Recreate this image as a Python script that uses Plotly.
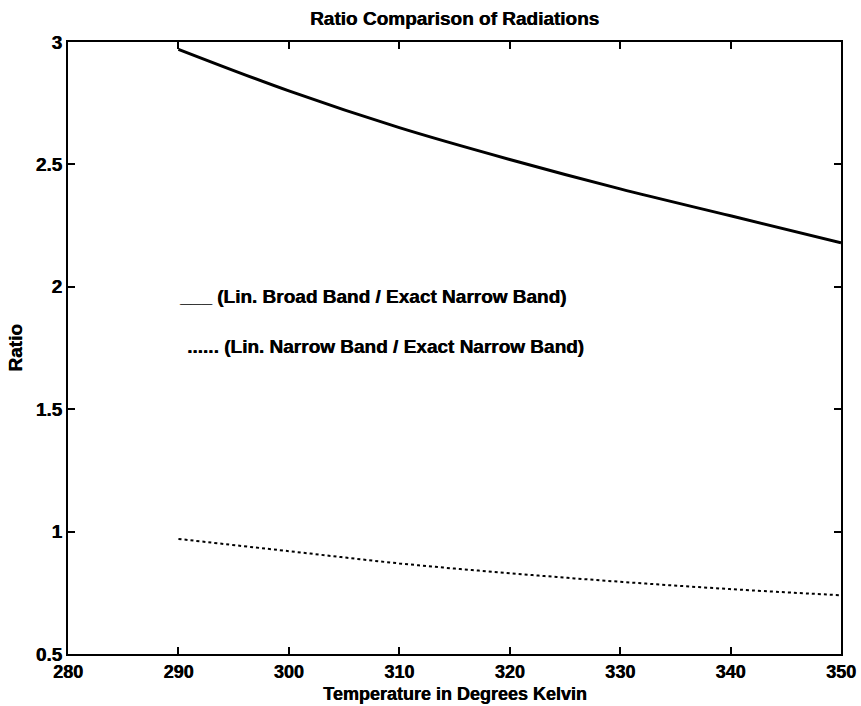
import plotly.graph_objects as go

temps = [290, 300, 310, 320, 330, 340, 350]
broad_ratio = [2.97, 2.80, 2.65, 2.52, 2.40, 2.29, 2.18]
narrow_ratio = [0.97, 0.92, 0.87, 0.83, 0.795, 0.765, 0.74]

x_ticks = [280, 290, 300, 310, 320, 330, 340, 350]
y_ticks = [0.5, 1, 1.5, 2, 2.5, 3]
y_tick_text = ["0.5", "1", "1.5", "2", "2.5", "3"]

legend_texts = ["___ (Lin. Broad Band / Exact Narrow Band)",
                "...... (Lin. Narrow Band / Exact Narrow Band)"]
legend_x = [289.9, 290.6]
legend_y = [1.96, 1.755]

FONT = "Liberation Sans"
SHADOW = "0.5px 0px 0px black"
PLOT_L, PLOT_R, PLOT_T, PLOT_B = 68, 841, 42, 654


def f(size):
    return dict(family=FONT, size=size, color="black", shadow=SHADOW)


fig = go.Figure()
fig.add_trace(go.Scatter(x=temps, y=broad_ratio, mode="lines", line_shape="spline",
                         line=dict(color="black", width=3), showlegend=False))
fig.add_trace(go.Scatter(x=temps, y=narrow_ratio, mode="lines", line_shape="spline",
                         line=dict(color="black", width=2, dash="dot"), showlegend=False))

for t, xx, yy in zip(legend_texts, legend_x, legend_y):
    fig.add_annotation(x=xx, y=yy, xref="x", yref="y", text="<b>" + t + "</b>",
                       showarrow=False, xanchor="left", yanchor="middle", font=f(19))

# x-axis title placed below tick labels, bottom edge at the page bottom
fig.add_annotation(x=0.5, y=0, xref="paper", yref="paper",
                   text="<b>Temperature in Degrees Kelvin</b>", showarrow=False,
                   xanchor="center", yanchor="bottom", yshift=-(705 - PLOT_B),
                   borderpad=0, font=f(18))

fig.update_layout(
    width=861, height=706,
    margin=dict(l=PLOT_L, r=861 - PLOT_R, t=PLOT_T, b=706 - PLOT_B, autoexpand=False),
    paper_bgcolor="white", plot_bgcolor="white",
    title=dict(text="<b>Ratio Comparison of Radiations</b>", xref="paper", x=0.5,
               xanchor="center", y=1 - 18.5 / 706, yanchor="middle", font=f(19)),
    font=dict(family=FONT, color="black"),
)
fig.update_xaxes(range=[280, 350], tickvals=x_ticks, ticktext=["<b>%d</b>" % v for v in x_ticks],
                 ticks="inside", ticklen=7, tickwidth=2, tickcolor="black",
                 showline=True, linewidth=2, linecolor="black", mirror="ticks",
                 showgrid=False, zeroline=False, tickfont=f(18))
fig.update_yaxes(range=[0.5, 3], tickvals=y_ticks, ticktext=["<b>%s</b>" % v for v in y_tick_text],
                 ticks="inside", ticklen=7, tickwidth=2, tickcolor="black",
                 showline=True, linewidth=2, linecolor="black", mirror="ticks",
                 showgrid=False, zeroline=False, tickfont=f(19),
                 title=dict(text="<b>Ratio</b>", standoff=8, font=f(19)))

fig.write_html("out.html")
